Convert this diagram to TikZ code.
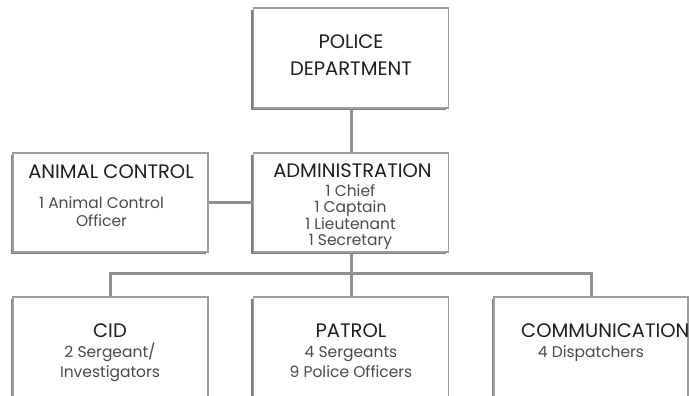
\documentclass[tikz,border=0pt]{standalone}
\usepackage{fontspec}
\setmainfont{Poppins}
\usetikzlibrary{shadows}
\definecolor{boxline}{HTML}{9E9E9E}
\definecolor{shadowgray}{HTML}{7E7E7E}
\definecolor{connline}{HTML}{909090}
\definecolor{titletext}{HTML}{1E1E1E}
\definecolor{subtext}{HTML}{4A4A4A}
\begin{document}
\begin{tikzpicture}[x=1pt,y=1pt,
  orgbox/.style={draw=boxline, line width=1.4pt, fill=white, minimum width=195pt,
    minimum height=100pt, inner sep=0pt,
    general shadow={fill=shadowgray, shadow xshift=-2.2pt, shadow yshift=-2.4pt}},
  titletxt/.style={inner sep=0pt, anchor=base, text=titletext, align=center,
    font=\fontsize{19.5}{27}\selectfont},
  subtxt/.style={inner sep=0pt, anchor=base, text=subtext, align=center},
  conn/.style={draw=connline, line width=3pt}
]
\fill[white] (0,0) rectangle (691,-396);
\useasboundingbox (0,0) rectangle (691,-396);
\clip (0,0) rectangle (691,-396);

% boxes
\node[orgbox] (pd) at (351,-58) {};
\node[orgbox, minimum height=99pt] (ac) at (110.5,-202.5) {};
\node[orgbox, minimum height=99pt] (adm) at (351,-202.5) {};
\node[orgbox, minimum height=110pt] (cid) at (110.5,-352) {};
\node[orgbox, minimum height=110pt] (pat) at (351,-352) {};
\node[orgbox, minimum height=110pt, minimum width=194pt] (com) at (591,-352) {};

% connectors
\draw[conn] (pd.south) -- (adm.north);
\draw[conn] (ac.east) -- (adm.west);
\draw[conn] (adm.south) -- (pat.north);
\draw[conn] (cid.north) -- ++(0,23) -| (com.north);

% texts (base anchor = baseline of the last line)
\node[titletxt] (pdt) at (351,-75) {POLICE\\DEPARTMENT};
\node[titletxt] (act) at (111,-178) {ANIMAL CONTROL};
\node[subtxt, font=\fontsize{15.5}{18}\selectfont] (acs) at (101.5,-226) {1 Animal Control\\Officer};
\node[titletxt] (admt) at (352.5,-177) {ADMINISTRATION};
\node[subtxt, font=\fontsize{15.5}{15.7}\selectfont] (adms) at (350.5,-245.1) {1 Chief\\1 Captain\\1 Lieutenant\\1 Secretary};
\node[titletxt] (cidt) at (110,-337) {CID};
\node[subtxt, font=\fontsize{15.5}{20}\selectfont] (cids) at (110,-377) {2 Sergeant/\\Investigators};
\node[titletxt] (patt) at (351,-337) {PATROL};
\node[subtxt, font=\fontsize{15.5}{20}\selectfont] (pats) at (351,-377) {4 Sergeants\\9 Police Officers};
\node[titletxt, anchor=base west] (comt) at (521,-337) {COMMUNICATION};
\node[subtxt, font=\fontsize{15.5}{20}\selectfont] (coms) at (591,-357) {4 Dispatchers};
\end{tikzpicture}
\end{document}
